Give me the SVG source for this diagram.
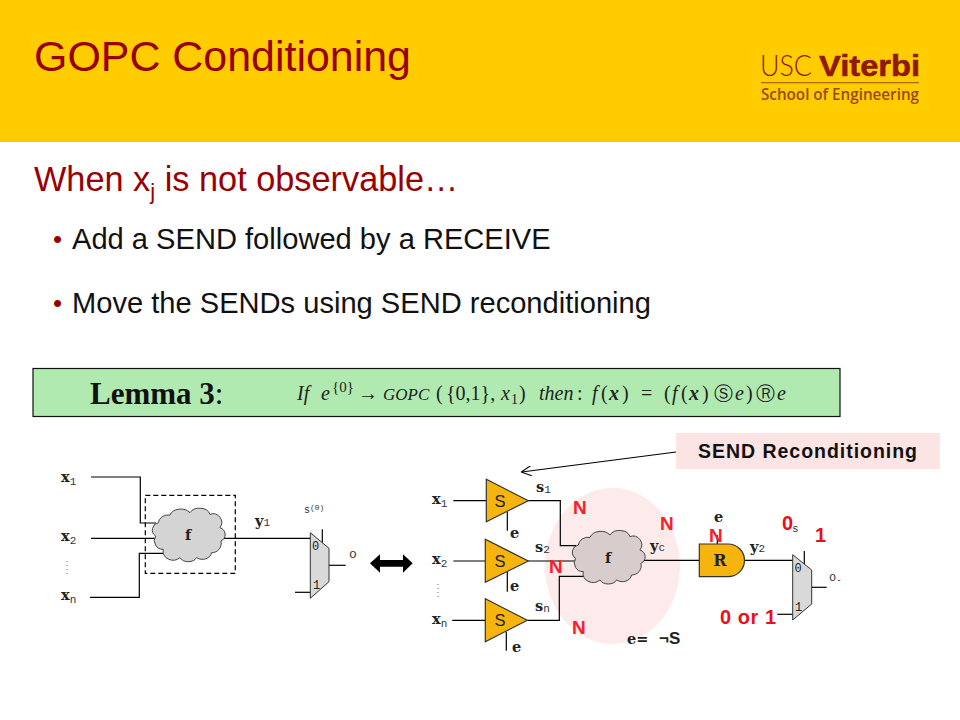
<svg xmlns="http://www.w3.org/2000/svg" width="960" height="720" viewBox="0 0 960 720">
<style>
.w{fill:none;stroke:#000;stroke-width:1.2}
.sans{font-family:"Liberation Sans",Arial,sans-serif}
.h{font-family:"Liberation Sans",Arial,sans-serif;fill:#990000}
.b{font-family:"Liberation Sans",Arial,sans-serif;font-size:29.100px;fill:#111}
.dot{font-family:"Liberation Sans",Arial,sans-serif;font-size:26px;fill:#990000}
.m{font-family:"DejaVu Serif",serif;font-weight:bold;font-size:14.500px;fill:#222}
.sub{font-family:"Liberation Mono","Courier New",monospace;font-weight:normal;font-size:11px;fill:#333}
.n{font-family:"Liberation Sans",Arial,sans-serif;font-weight:bold;font-size:19px;fill:#F5222D}
.r{font-family:"Liberation Sans",Arial,sans-serif;font-weight:bold;font-size:20px;fill:#E8101A}
.mi{font-family:"Liberation Serif","Times New Roman",serif;font-size:20px;font-style:italic;fill:#222}
.mr{font-family:"Liberation Serif","Times New Roman",serif;font-size:20px;fill:#222}
.mux{fill:#d9d9d9;stroke:#333;stroke-width:1}
.tri{fill:#F5B50E;stroke:#333;stroke-width:1.2}
.dots{fill:none;stroke:#777;stroke-width:1;stroke-dasharray:1 3}
.mx{font-family:"Liberation Mono",monospace;font-size:12px;fill:#222}
.st{font-family:"Liberation Sans",Arial,sans-serif;font-size:16.500px;fill:#222;text-anchor:middle}
</style>
<defs>
<path id="cloud" d="M10,45 A30,26 0 0 1 45,22 A34,26 0 0 1 105,15 A32,24 0 0 1 165,20 A26,26 0 0 1 195,60 A24,22 0 0 1 198,100 A28,28 0 0 1 170,135 A28,24 0 0 1 125,150 A28,22 0 0 1 75,150 A30,26 0 0 1 25,125 A26,26 0 0 1 2,85 A22,22 0 0 1 10,45 Z" stroke="#444" stroke-width="3"/>
<marker id="open" viewBox="0 0 10 10" refX="9.500" refY="5" markerWidth="10" markerHeight="10" markerUnits="userSpaceOnUse" orient="auto"><path d="M0,0 L10,5 L0,10" fill="none" stroke="#000" stroke-width="1.100"/></marker>
</defs>
<rect width="960" height="720" fill="#fff"/>
<g id="header">
<rect width="960" height="142" fill="#FFCC00"/>
<text class="h" x="34" y="71" font-size="43" textLength="377" lengthAdjust="spacingAndGlyphs">GOPC Conditioning</text>
</g>
<g id="logo" fill="#8F1A0A">
<text x="760" y="76" font-family="Lato,'Open Sans',sans-serif" font-weight="300" font-size="30" textLength="52" lengthAdjust="spacingAndGlyphs">USC</text>
<text x="819" y="76" font-family="'Liberation Sans',sans-serif" font-weight="bold" font-size="30" stroke="#8F1A0A" stroke-width="0.600" textLength="101" lengthAdjust="spacingAndGlyphs">Viterbi</text>
<rect x="761" y="82" width="158" height="1.300" fill="#B06A10"/>
<text x="761" y="100" font-family="'Open Sans',Lato,sans-serif" font-weight="600" font-size="15.500" fill="#9A4A10" textLength="158" lengthAdjust="spacingAndGlyphs">School of Engineering</text>
</g>
<g id="body">
<text class="h" x="34" y="191" font-size="34.300">When x<tspan font-size="22" dy="8">j</tspan><tspan dy="-8"> is not observable…</tspan></text>
<text class="dot" x="53" y="248">•</text>
<text class="b" x="72" y="249">Add a SEND followed by a RECEIVE</text>
<text class="dot" x="53" y="312">•</text>
<text class="b" x="72" y="313">Move the SENDs using SEND reconditioning</text>
</g>
<g id="lemma">
<rect x="33" y="368.500" width="807" height="48" fill="#B0EAB0" stroke="#111" stroke-width="1.200"/>
<text x="90" y="404" font-family="'Liberation Serif','Times New Roman',serif" font-size="31" fill="#111"><tspan font-weight="bold">Lemma 3</tspan>:</text>
<text class="mi" x="297" y="400">If</text>
<text class="mi" x="321" y="400">e</text>
<text class="mr" x="332" y="392" style="font-size:15px">{0}</text>
<text class="mr" x="358" y="400">→</text>
<text class="mi" x="383" y="400" style="font-size:17px">GOPC</text>
<text class="mr" x="436" y="400">(</text>
<text class="mr" x="446" y="400">{0,1},</text>
<text class="mi" x="501" y="400">x</text>
<text class="mr" x="511" y="404" style="font-size:14px">1</text>
<text class="mr" x="519" y="400">)</text>
<text class="mi" x="539" y="400">then</text>
<text class="mr" x="577" y="400">:</text>
<text class="mi" x="592" y="400">f</text>
<text class="mr" x="601" y="400">(</text>
<text class="mi" x="609" y="400" font-weight="bold">x</text>
<text class="mr" x="622" y="400">)</text>
<text class="mr" x="641" y="400">=</text>
<text class="mr" x="664" y="400">(</text>
<text class="mi" x="672" y="400">f</text>
<text class="mr" x="681" y="400">(</text>
<text class="mi" x="689" y="400" font-weight="bold">x</text>
<text class="mr" x="702" y="400">)</text>
<text class="mr" x="714" y="400" style="font-family:'DejaVu Sans',sans-serif;font-size:19px">Ⓢ</text>
<text class="mi" x="735" y="400">e</text>
<text class="mr" x="746" y="400">)</text>
<text class="mr" x="756" y="400" style="font-family:'DejaVu Sans',sans-serif;font-size:19px">Ⓡ</text>
<text class="mi" x="777" y="400">e</text>
</g>
<g id="send-label">
<rect x="676" y="433" width="264" height="36" fill="#FCE4E4"/>
<text class="sans" x="698" y="458" font-weight="bold" font-size="19.500" fill="#111" textLength="219">SEND Reconditioning</text>
</g>
<ellipse id="highlight" cx="612.500" cy="566" rx="67.500" ry="78" fill="#FDEBEB"/>
<g id="connectors">
<path class="w" d="M91,477H140.300V523H156"/>
<path class="w" d="M91,538.300H155"/>
<path class="w" d="M90,597.300H139.300V553.300H163"/>
<path class="w" d="M222,538.300H310.300"/>
<path class="w" d="M322.300,529.300V542.700"/>
<path class="w" d="M329,565.300H345.700"/>
<path class="w" d="M295,592.300H310.300"/>
<path class="w" d="M453.300,500.700H486.300"/>
<path class="w" d="M453.300,561H485.300"/>
<path class="w" d="M452.300,620.300H485.300"/>
<path class="w" d="M507.300,511.700V530.700"/>
<path class="w" d="M507.300,571.700V591.700"/>
<path class="w" d="M506.300,631.700V650.700"/>
<path class="w" d="M528.300,500.700H560.300V545.700H576"/>
<path class="w" d="M528.300,561H575"/>
<path class="w" d="M527.300,620.300H559.300V576.300H583.300"/>
<path class="w" d="M641.700,560.300H699.300"/>
<path class="w" d="M717.300,535V544"/>
<path class="w" d="M741.700,560.300H792.700"/>
<path class="w" d="M804.300,551V565"/>
<path class="w" d="M811.700,587.300H826.700"/>
<path class="w" d="M777.300,614.300H792.700"/>
<path class="w" d="M676,452L521.700,472" marker-end="url(#open)"/>
<path class="dots" d="M67,561V574"/>
<path class="dots" d="M438,584V597"/>
</g>
<g id="cloud-left">
<use href="#cloud" transform="translate(155,507.700) scale(0.333)" fill="#d4d4d4"/>
<text class="m" x="188" y="540" text-anchor="middle">f</text>
</g>
<rect id="dashed-box" x="145.300" y="495.300" width="90" height="78" fill="none" stroke="#000" stroke-width="1.200" stroke-dasharray="5 3"/>
<g id="labels-left">
<text class="m" x="61" y="482">x<tspan class="sub" dy="3">1</tspan></text>
<text class="m" x="61" y="541">x<tspan class="sub" dy="3">2</tspan></text>
<text class="m" x="61" y="600">x<tspan class="sub" dy="3">n</tspan></text>
<text class="m" x="255" y="526">y<tspan class="sub" dy="0">1</tspan></text>
<text class="sub" x="304" y="513" style="font-size:10px">s<tspan font-size="8" dy="-3">(0)</tspan></text>
<text class="sub" x="349" y="558" style="font-size:13px">o</text>
</g>
<g id="mux-left">
<polygon class="mux" points="310.300,532.700 329,548.300 329,581.700 310.300,598.300"/>
<text class="mx" x="312" y="549.500">0</text>
<text class="mx" x="313" y="588.500">1</text>
</g>
<g id="double-arrow">
<polygon points="370,563.300 380,554.300 380,560 403,560 403,554.300 412.700,563.300 403,572.700 403,566.700 380,566.700 380,572.700" fill="#000"/>
</g>
<g id="send-1">
<polygon class="tri" points="486.300,479.300 486.300,521.700 528.300,500.700"/>
<text class="st" x="500" y="506.500">S</text>
</g>
<g id="send-2">
<polygon class="tri" points="485.300,539.300 485.300,582.300 528.300,561"/>
<text class="st" x="500" y="567">S</text>
</g>
<g id="send-3">
<polygon class="tri" points="485.300,598.700 485.300,641.700 527.300,620.300"/>
<text class="st" x="500" y="626">S</text>
</g>
<g id="cloud-right">
<use href="#cloud" transform="translate(575,530) scale(0.333)" fill="#d9cccc"/>
<text class="m" x="608" y="563" text-anchor="middle">f</text>
</g>
<g id="receive">
<path d="M699.300,544H728A16.500,16.350 0 0 1 728,576.700H699.300Z" fill="#F5B50E" stroke="#333" stroke-width="1.200"/>
<text class="m" x="720" y="565.500" text-anchor="middle" style="font-size:16px">R</text>
</g>
<g id="mux-right">
<polygon class="mux" points="792.700,554.700 811.700,570 811.700,604 792.700,620"/>
<text class="mx" x="794.500" y="571.500">0</text>
<text class="mx" x="795" y="610.500">1</text>
</g>
<g id="labels-right">
<text class="m" x="432" y="504">x<tspan class="sub" dy="3">1</tspan></text>
<text class="m" x="432" y="564">x<tspan class="sub" dy="3">2</tspan></text>
<text class="m" x="432" y="624">x<tspan class="sub" dy="3">n</tspan></text>
<text class="m" x="536" y="492">s<tspan class="sub" dy="1">1</tspan></text>
<text class="m" x="535" y="552">s<tspan class="sub" dy="1">2</tspan></text>
<text class="m" x="535" y="611">s<tspan class="sub" dy="1">n</tspan></text>
<text class="m" x="510" y="538">e</text>
<text class="m" x="510" y="591">e</text>
<text class="m" x="512" y="652">e</text>
<text class="m" x="650" y="551">y<tspan class="sub" dy="0">c</tspan></text>
<text class="m" x="627" y="644">e=</text>
<text class="sans" x="659" y="644" font-weight="bold" font-size="17" fill="#222">¬S</text>
<text class="m" x="714" y="522">e</text>
<text class="m" x="750" y="552">y<tspan class="sub" dy="0">2</tspan></text>
<text class="sub" x="829" y="581" style="font-size:12px">o<tspan font-size="9" dy="2">-</tspan></text>
<text class="sub" x="792" y="532">s</text>
</g>
<g id="annotations">
<text class="n" x="573" y="514">N</text>
<text class="n" x="660" y="530">N</text>
<text class="n" x="549" y="573">N</text>
<text class="n" x="572" y="634">N</text>
<text class="n" x="709" y="542">N</text>
<text class="r" x="782" y="530">0</text>
<text class="r" x="815" y="542">1</text>
<text class="r" x="720" y="624" textLength="56">0 or 1</text>
</g>
</svg>
